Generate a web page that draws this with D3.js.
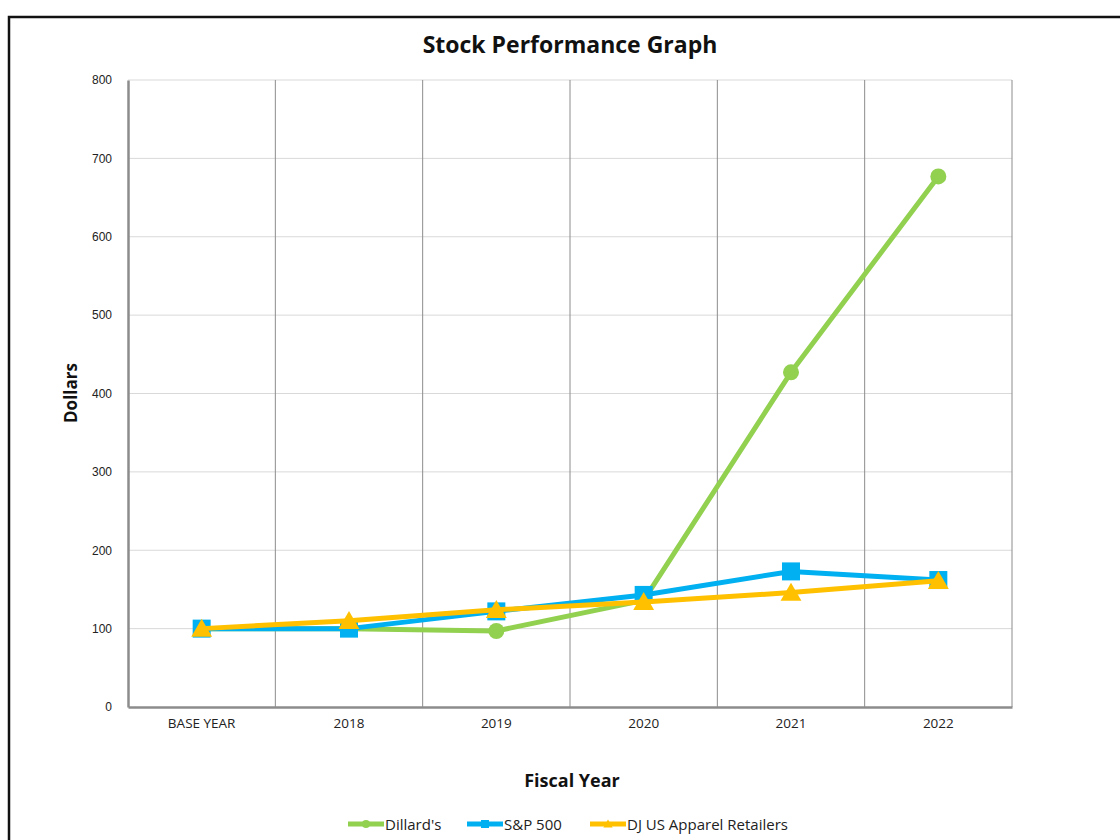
<!DOCTYPE html>
<html>
<head>
<meta charset="utf-8">
<script src="https://cdn.jsdelivr.net/npm/d3@7"></script>
<style>
  body { margin: 0; background: #fff; }
  svg { display: block; font-family: "Open Sans", "Liberation Sans", sans-serif; }
</style>
</head>
<body>
<svg id="chart" width="1120" height="840"></svg>
<script>
// chart data
const years = ['BASE YEAR', '2018', '2019', '2020', '2021', '2022'];
const dillards = [100, 100, 97, 136, 427, 677];
const sp500 = [100, 100, 122, 143, 173, 162];
const djApparel = [100, 110, 124, 134, 146, 161];
const yTicks = [0, 100, 200, 300, 400, 500, 600, 700, 800];

const series = [
  { name: "Dillard's", values: dillards, color: '#92d050', marker: 'circle' },
  { name: 'S&P 500', values: sp500, color: '#00b0f0', marker: 'square' },
  { name: 'DJ US Apparel Retailers', values: djApparel, color: '#ffc000', marker: 'triangle' }
];

const margin = { top: 80, right: 108, bottom: 133, left: 128 };
const svg = d3.select('#chart');
const width = 1120 - margin.left - margin.right;
const height = 840 - margin.top - margin.bottom;

// outer frame (only top and left edges visible)
svg.append('path')
  .attr('d', 'M9,840 V17 H1120')
  .attr('fill', 'none')
  .attr('stroke', '#111')
  .attr('stroke-width', 2.5);

const g = svg.append('g').attr('transform', `translate(${margin.left},${margin.top})`);

const x = d3.scaleBand().domain(years).range([0, width]);
const y = d3.scaleLinear().domain([0, 800]).range([height, 0]);

// horizontal grid
g.append('g').selectAll('line').data(yTicks.filter(d => d > 0)).join('line')
  .attr('x1', 0).attr('x2', width)
  .attr('y1', d => y(d)).attr('y2', d => y(d))
  .attr('stroke', '#d9d9d9').attr('stroke-width', 1);

// vertical grid at band edges
g.append('g').selectAll('line').data(years.slice(1).concat(['end'])).join('line')
  .attr('x1', d => d === 'end' ? width : x(d)).attr('x2', d => d === 'end' ? width : x(d))
  .attr('y1', 0).attr('y2', height)
  .attr('stroke', '#8c8c8c').attr('stroke-width', 1);

// y axis
const yAxis = g.append('g')
  .call(d3.axisLeft(y).tickValues(yTicks).tickSize(0).tickPadding(16));
yAxis.select('.domain').attr('stroke', '#8c8c8c').attr('stroke-width', 2.5);
yAxis.selectAll('text').attr('font-size', 12).attr('fill', '#222')
  .attr('font-family', '"Liberation Sans", Arial, sans-serif');

// x axis
const xAxis = g.append('g')
  .attr('transform', `translate(0,${height})`)
  .call(d3.axisBottom(x).tickSize(0).tickPadding(11));
xAxis.select('.domain').attr('stroke', '#8c8c8c').attr('stroke-width', 2.5);
xAxis.selectAll('text').attr('font-size', 13.5).attr('fill', '#222')
  .attr('font-family', '"Open Sans", sans-serif');

// lines
const line = d3.line()
  .x((d, i) => x(years[i]) + x.bandwidth() / 2)
  .y(d => y(d));

function drawMarker(sel, type, size, color) {
  if (type === 'circle') {
    sel.append('circle').attr('r', size / 2).attr('fill', color);
  } else if (type === 'square') {
    sel.append('rect').attr('x', -size / 2).attr('y', -size / 2)
      .attr('width', size).attr('height', size).attr('fill', color);
  } else {
    const s = size;
    sel.append('path')
      .attr('d', `M0,${-s * 0.55} L${s * 0.58},${s * 0.45} L${-s * 0.58},${s * 0.45} Z`)
      .attr('fill', color);
  }
}

series.forEach(s => {
  g.append('path')
    .datum(s.values)
    .attr('d', line)
    .attr('fill', 'none')
    .attr('stroke', s.color)
    .attr('stroke-width', 5)
    .attr('stroke-linejoin', 'round');
  s.values.forEach((v, i) => {
    const m = g.append('g')
      .attr('transform', `translate(${x(years[i]) + x.bandwidth() / 2},${y(v)})`);
    drawMarker(m, s.marker, s.marker === 'circle' ? 16 : 18, s.color);
  });
});

// titles
svg.append('text')
  .attr('x', 570).attr('y', 53)
  .attr('text-anchor', 'middle')
  .attr('font-size', 23).attr('font-weight', 'bold').attr('fill', '#111')
  .text('Stock Performance Graph');

svg.append('text')
  .attr('transform', 'translate(77,393) rotate(-90)')
  .attr('text-anchor', 'middle')
  .attr('font-size', 17).attr('font-weight', 'bold').attr('fill', '#111')
  .text('Dollars');

svg.append('text')
  .attr('x', 572).attr('y', 787)
  .attr('text-anchor', 'middle')
  .attr('font-size', 18).attr('font-weight', 'bold').attr('fill', '#111')
  .text('Fiscal Year');

// legend
const legendX = [348, 467, 590];
const legend = svg.append('g');
series.forEach((s, i) => {
  const lg = legend.append('g').attr('transform', `translate(${legendX[i]},824)`);
  lg.append('line').attr('x1', 0).attr('x2', 36).attr('y1', 0).attr('y2', 0)
    .attr('stroke', s.color).attr('stroke-width', 5);
  const m = lg.append('g').attr('transform', 'translate(18,0)');
  drawMarker(m, s.marker, 8, s.color);
  lg.append('text').attr('x', 37).attr('y', 5.5)
    .attr('font-size', 15).attr('fill', '#222')
    .text(s.name);
});
</script>
</body>
</html>
